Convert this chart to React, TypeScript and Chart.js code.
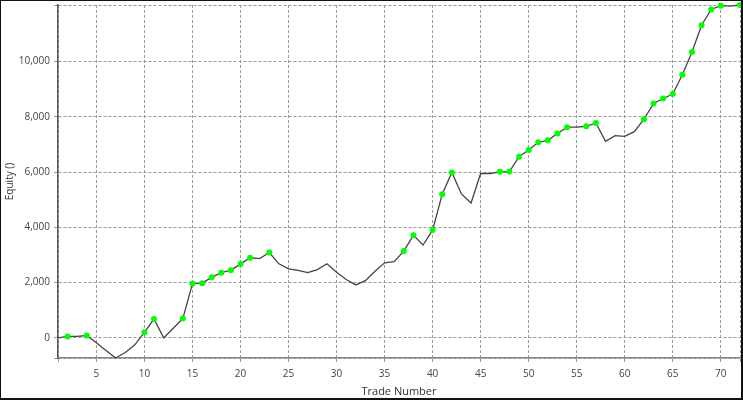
import { useEffect, useRef } from "react";
import { Chart, registerables } from "chart.js";

Chart.register(...registerables);

const tradeNumbers = [
  1, 2, 3, 4, 5, 6, 7, 8, 9, 10, 11, 12, 13, 14, 15, 16, 17, 18, 19, 20, 21, 22, 23, 24,
  25, 26, 27, 28, 29, 30, 31, 32, 33, 34, 35, 36, 37, 38, 39, 40, 41, 42, 43, 44, 45, 46, 47, 48,
  49, 50, 51, 52, 53, 54, 55, 56, 57, 58, 59, 60, 61, 62, 63, 64, 65, 66, 67, 68, 69, 70, 71, 72,
];

const equity = [
  0, 50, 50, 85, -180, -460, -730, -530, -255, 205, 680, 0, 350, 700, 1960, 1980, 2190, 2360,
  2450, 2670, 2900, 2870, 3090, 2680, 2500, 2440, 2360, 2470, 2680, 2375, 2110, 1915, 2070, 2410,
  2715, 2760, 3140, 3710, 3360, 3900, 5200, 5990, 5210, 4880, 5950, 5950, 6010, 6020, 6560, 6800,
  7080, 7150, 7400, 7625, 7625, 7660, 7780, 7115, 7320, 7295, 7465, 7915, 8485, 8665, 8825, 9525,
  10350, 11320, 11890, 12025, 12010, 12050,
];

const xTickValues = [5, 10, 15, 20, 25, 30, 35, 40, 45, 50, 55, 60, 65, 70];
const yTickValues = [0, 2000, 4000, 6000, 8000, 10000];

const X_MIN = 1;
const X_MAX = 72;
const Y_MIN = -730;
const Y_MAX = 12050;

const FONT = "'Open Sans', 'Noto Sans', sans-serif";

export default function App() {
  const ref = useRef<HTMLCanvasElement | null>(null);

  useEffect(() => {
    document.body.style.margin = "0";
    if (!ref.current) return;

    // markers on new equity highs
    let runMax = equity[0];
    const radii = equity.map((v, i) => {
      if (i === 0) return 0;
      if (v > runMax) {
        runMax = v;
        return 3;
      }
      return 0;
    });

    const chart = new Chart(ref.current, {
      type: "line",
      data: {
        datasets: [
          {
            data: tradeNumbers.map((t, i) => ({ x: t, y: equity[i] })),
            borderColor: "#444444",
            borderWidth: 1.3,
            pointRadius: radii,
            pointHoverRadius: radii,
            pointBackgroundColor: "#00ff00",
            pointBorderColor: "#00ff00",
            pointBorderWidth: 0,
            pointStyle: "circle",
            tension: 0,
            clip: false as any,
          },
        ],
      },
      options: {
        animation: false,
        responsive: false,
        maintainAspectRatio: false,
        layout: { padding: { top: 5, right: 3, left: 0, bottom: 0 } },
        plugins: { legend: { display: false }, tooltip: { enabled: false } },
        scales: {
          x: {
            type: "linear",
            min: X_MIN,
            max: X_MAX,
            afterBuildTicks: (s: any) => {
              s.ticks = [X_MIN, ...xTickValues, X_MAX].map((v) => ({ value: v }));
            },
            afterFit: (s: any) => {
              s.height = 42;
              s.paddingLeft = 0;
              s.paddingRight = 0;
            },
            ticks: {
              autoSkip: false,
              maxRotation: 0,
              padding: 6,
              color: "#444444",
              font: { family: FONT, size: 10 },
              callback: (v: any) => (xTickValues.includes(Number(v)) ? String(v) : ""),
            },
            grid: { color: "#999999", tickLength: 4, tickBorderDash: [] as any },
            border: { color: "#888888", width: 1.5, dash: [3, 2] },
            title: {
              display: true,
              text: "Trade Number",
              color: "#333333",
              font: { family: FONT, size: 11 },
              padding: { top: 0, bottom: 2 },
            },
          },
          y: {
            type: "linear",
            min: Y_MIN,
            max: Y_MAX,
            afterBuildTicks: (s: any) => {
              s.ticks = [Y_MIN, ...yTickValues, Y_MAX].map((v) => ({ value: v }));
            },
            afterFit: (s: any) => {
              s.width = 58;
              s.paddingTop = 0;
              s.paddingBottom = 0;
            },
            ticks: {
              padding: 4,
              color: "#444444",
              font: { family: FONT, size: 10 },
              callback: (v: any) =>
                yTickValues.includes(Number(v)) ? Number(v).toLocaleString("en-US") : "",
            },
            grid: { color: "#999999", tickLength: 4, tickBorderDash: [] as any },
            border: { color: "#555555", width: 1.5, dash: [3, 2] },
            title: {
              display: true,
              text: "Equity ()",
              color: "#333333",
              font: { family: FONT, size: 10 },
              padding: { top: 4, bottom: 0 },
            },
          },
        },
      },
    });

    return () => chart.destroy();
  }, []);

  return (
    <div style={{ position: "relative", width: 743, height: 400, background: "#ffffff" }}>
      <canvas ref={ref} width={743} height={400} style={{ display: "block", width: 743, height: 400 }} />
      <div
        style={{
          position: "absolute",
          left: 0,
          top: 0,
          width: 743,
          height: 400,
          boxSizing: "border-box",
          borderTop: "1px solid #111",
          borderLeft: "1px solid #111",
          borderRight: "2px solid #111",
          borderBottom: "2px solid #111",
          pointerEvents: "none",
        }}
      />
    </div>
  );
}
